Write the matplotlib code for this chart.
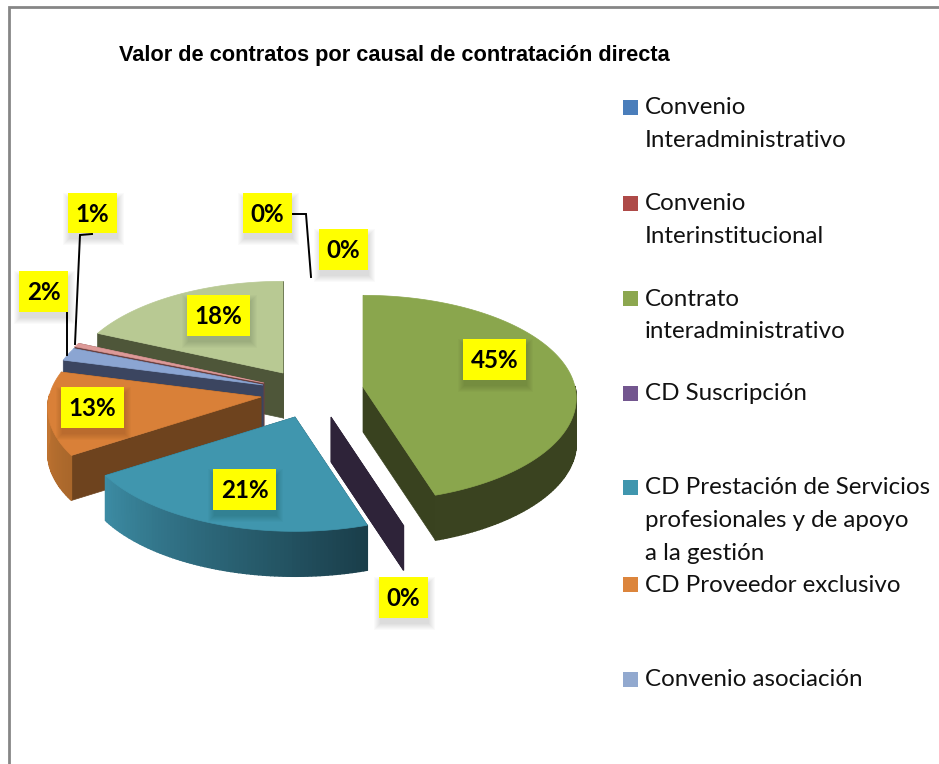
import numpy as np
import matplotlib
matplotlib.use("Agg")
import matplotlib.pyplot as plt
from matplotlib.patches import Polygon, Rectangle
from matplotlib.colors import to_rgb

# ---- data -------------------------------------------------------------
title = "Valor de contratos por causal de contratación directa"
slice_values = [0, 0, 45, 0, 21, 13, 2, 0.6, 18.4]
slice_labels = ["0%", "0%", "45%", "0%", "21%", "13%", "2%", "1%", "18%"]
top_colors = ["#4a7ebb", "#be4b48", "#8aa64d", "#7d5fa0", "#4096ae", "#d98038", "#8ba5d2", "#dd9a98", "#b8c993"]
face_colors = ["#27405f", "#5f2625", "#39421f", "#2e2339", "#1f4c59", "#6e431e", "#3b4560", "#6b4140", "#4e5639"]
rim_from = ["#27405f", "#5f2625", "#3a4320", "#2e2339", "#3c8ba3", "#cf7c35", "#3b4560", "#6b4140", "#4e5639"]
rim_to = ["#27405f", "#5f2625", "#39421f", "#2e2339", "#1a3e4a", "#a9672b", "#3b4560", "#6b4140", "#4e5639"]
apex_x = [315, 315, 363, 331, 295, 261, 263, 264, 283]
apex_y = [280, 280, 387, 417, 417, 397, 385, 383, 373]

legend_entries = ["Convenio\nInteradministrativo", "Convenio\nInterinstitucional",
                  "Contrato\ninteradministrativo", "CD Suscripción",
                  "CD Prestación de Servicios\nprofesionales y de apoyo\na la gestión",
                  "CD Proveedor exclusivo", "Convenio asociación"]
legend_colors = ["#4a7ebb", "#ae4a48", "#8ca74f", "#73568f", "#4096ae", "#dc853c", "#92a9cf"]
legend_y = [107, 203, 298, 393, 487, 584, 679]

# label box: left, top, right, bottom in image pixels
label_boxes = [(319, 229, 368, 270), (243, 193, 292, 233), (463, 339, 526, 380),
               (379, 577, 428, 618), (213, 469, 276, 510), (61, 387, 124, 428),
               (19, 271, 68, 312), (68, 193, 117, 233), (187, 295, 250, 336)]
leader_x = [[293, 306, 311], [92, 80, 75], [67, 67]]
leader_y = [[214, 214, 277], [234, 235, 344], [313, 355]]

# ---- geometry / style --------------------------------------------------
W, H = 939, 764
RX, RY, PERSP, DEPTH = 212, 103, 0.11, 45
plt.rcParams["font.family"] = ["Lato", "DejaVu Sans"]

fig = plt.figure(figsize=(W / 100, H / 100), dpi=100)
ax = fig.add_axes([0, 0, 1, 1])
ax.set_xlim(0, W)
ax.set_ylim(H, 0)
ax.axis("off")


def rim_point(cx, cy, deg):
    t = np.radians(deg)
    depth_dir = -np.cos(t)
    s = 1 + PERSP * depth_dir
    return cx + RX * np.sin(t) * s, cy + RY * depth_dir * s


def blend(c1, c2, f):
    a, b = np.array(to_rgb(c1)), np.array(to_rgb(c2))
    return tuple(a + (b - a) * f)


# frame
ax.plot([9, 9, W], [H, 7, 7], color="#868686", lw=2, solid_joinstyle="miter", zorder=1)

# slices, back to front
starts = np.concatenate([[0], np.cumsum(slice_values)[:-1]]) * 3.6
ends = np.cumsum(slice_values) * 3.6
draw_order = [8, 7, 6, 5, 4, 3, 2]
for z, i in enumerate(draw_order):
    cx, cy = apex_x[i], apex_y[i]
    a0, a1 = starts[i], ends[i]
    base = 2 + z
    degs = np.linspace(a0, a1, max(2, int((a1 - a0)) + 2))
    px, py = rim_point(cx, cy, degs)
    # radial faces
    for d in (a0, a1):
        qx, qy = rim_point(cx, cy, d)
        ax.add_patch(Polygon([(cx, cy), (qx, qy), (qx, qy + DEPTH), (cx, cy + DEPTH)],
                             closed=True, fc=face_colors[i], ec=face_colors[i], lw=0.5, zorder=base))
    # rim, shaded strip by strip along the front half
    front = -np.cos(np.radians(degs)) >= -0.02
    for k in range(len(degs) - 1):
        if not front[k]:
            continue
        f = k / max(1, len(degs) - 2)
        col = blend(rim_to[i], rim_from[i], f)
        ax.add_patch(Polygon([(px[k], py[k]), (px[k + 1], py[k + 1]),
                              (px[k + 1], py[k + 1] + DEPTH), (px[k], py[k] + DEPTH)],
                             closed=True, fc=col, ec=col, lw=1.0, zorder=base))
    # top
    if a1 > a0:
        ax.add_patch(Polygon(np.column_stack([np.r_[cx, px], np.r_[cy, py]]), closed=True,
                             fc=top_colors[i], ec=top_colors[i], lw=0.5, zorder=base + 0.5))

# leader lines
for xs, ys in zip(leader_x, leader_y):
    ax.plot(xs, ys, color="black", lw=1.4, solid_joinstyle="miter", zorder=20)

# data labels with soft shadow
for txt, (l, t, r, b) in zip(slice_labels, label_boxes):
    for grow in (6, 5, 4, 3, 2, 1, 0):
        ax.add_patch(Rectangle((l + 1 - grow, t + 6 - grow), r - l + 2 * grow, b - t + 2 * grow,
                               fc="black", ec="none", alpha=0.018, zorder=21))
    ax.add_patch(Rectangle((l, t), r - l, b - t, fc="#ffff00", ec="none", zorder=22))
    ax.text((l + r) / 2, (t + b) / 2 + 1, txt, ha="center", va="center", fontsize=17.4,
            fontweight="bold", color="black", zorder=23)

# title
ax.text(119, 55, title, ha="left", va="center", fontsize=15.7, fontweight="bold",
        family=["Liberation Sans"], color="black")

# legend
for entry, col, y in zip(legend_entries, legend_colors, legend_y):
    ax.add_patch(Rectangle((623, y - 7.5), 15, 15, fc=col, ec="none"))
    for j, line in enumerate(entry.split("\n")):
        ax.text(645, y + 1 + 32.7 * j, line, ha="left", va="center", fontsize=17.35, color="#111111")

fig.savefig("out.png", dpi=100)
